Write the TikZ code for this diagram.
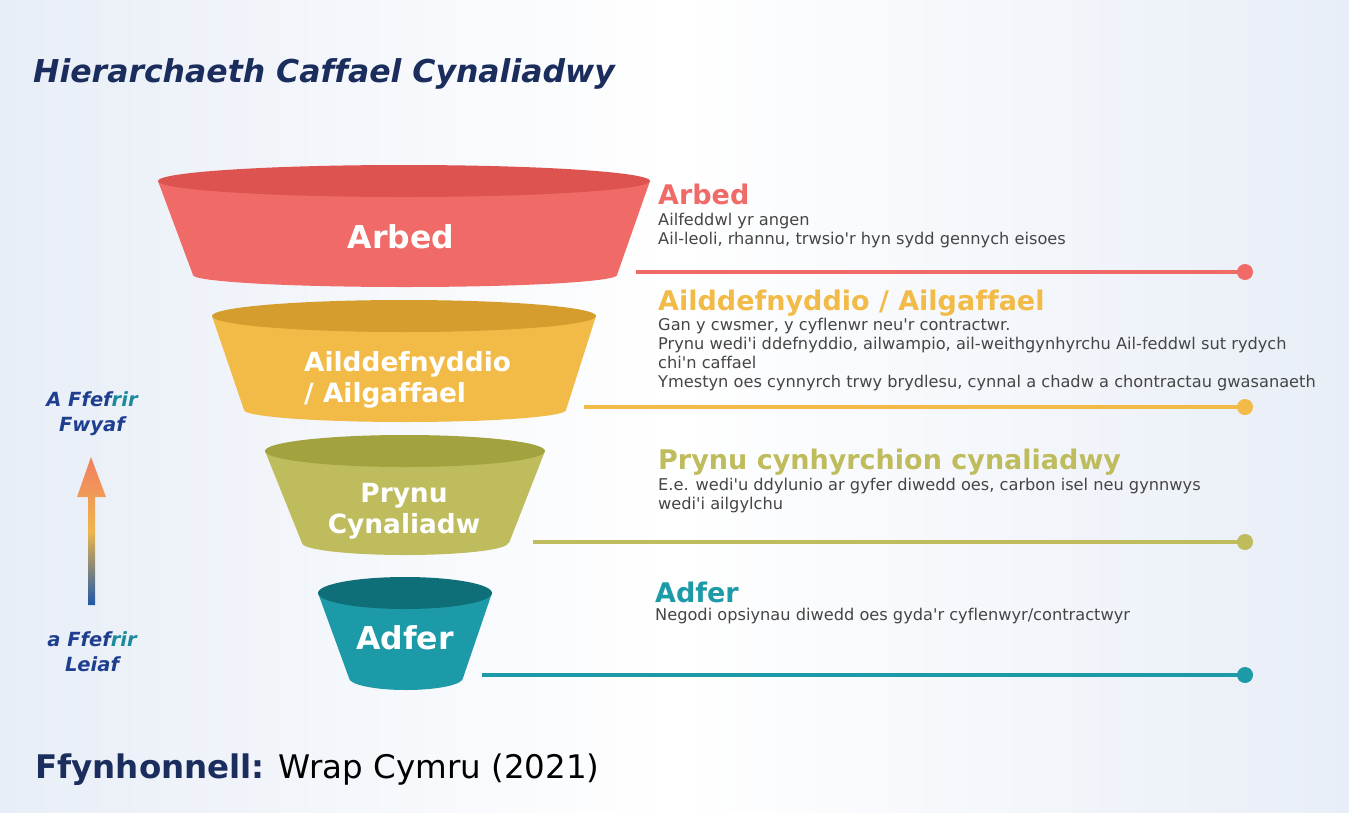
\documentclass[tikz,border=0pt]{standalone}
\usepackage{fontspec}
\setmainfont{DejaVu Sans}
\newfontfamily\verdanafont[Ligatures=NoCommon]{DejaVu Sans}
\usetikzlibrary{positioning}

\definecolor{arbedred}{HTML}{F06A68}
\definecolor{arbedtop}{HTML}{DD5350}
\definecolor{ailyellow}{HTML}{F2BB48}
\definecolor{ailtop}{HTML}{D49D2E}
\definecolor{prynuolive}{HTML}{BFBC5E}
\definecolor{prynutop}{HTML}{A2A23E}
\definecolor{adferteal}{HTML}{1C9AA7}
\definecolor{adfertop}{HTML}{0E6F78}
\definecolor{titlenavy}{HTML}{1B2D5C}
\definecolor{labelblue}{HTML}{1E3F8F}
\definecolor{labelteal}{HTML}{1A8A9C}
\definecolor{bodygrey}{HTML}{454545}
\definecolor{bgblue}{HTML}{E8EEF7}
\definecolor{arrowblue}{HTML}{1F58A8}
\definecolor{arrowgold}{HTML}{EDB64C}
\definecolor{arrowsalmon}{HTML}{F27E62}

\begin{document}
\begin{tikzpicture}[x=1pt,y=-1pt]
                \tikzset{headtext/.style={anchor=base west, inner sep=0pt,
                  font=\verdanafont\bfseries\fontsize{27}{27}\selectfont},
                 bodytext/.style={anchor=base west, inner sep=0pt, align=left,
                  text=bodygrey, font=\verdanafont\fontsize{16.2}{19}\selectfont},
                 funneltext/.style={inner sep=0pt, text=white, align=center,
                  font=\verdanafont\bfseries\fontsize{26.4}{31}\selectfont},
                 bigfunneltext/.style={funneltext, font=\verdanafont\bfseries\fontsize{31.5}{31.5}\selectfont},
                 sideline/.style={line width=4pt},
                 sidedot/.style={circle, inner sep=0pt, minimum size=16pt},
                 preflabel/.style={inner sep=0pt, align=center, text=labelblue,
                  font=\verdanafont\bfseries\itshape\fontsize{19.5}{25}\selectfont}}

                \useasboundingbox (0,0) rectangle (1349,812);
                \shade[left color=bgblue, right color=bgblue, middle color=white] (0,0) rectangle (1349,812);

                \node[anchor=base west, inner sep=0pt, text=titlenavy,
                  font=\verdanafont\bfseries\itshape\fontsize{31.5}{31.5}\selectfont] (title) at (33,82) {Hierarchaeth Caffael Cynaliadwy};

                % funnel
                \fill[arbedred] (158,181) -- (193,275) -- (617,275) -- (650,181) -- cycle;
                \fill[arbedred] (405,275) ellipse[x radius=212, y radius=12];
                \fill[arbedtop] (404,181) ellipse[x radius=246, y radius=16];
                \node[bigfunneltext] (arbedlabel) at (401,237) {Arbed};

                \fill[ailyellow] (212,316) -- (244,410) -- (566,410) -- (596,316) -- cycle;
                \fill[ailyellow] (405,410) ellipse[x radius=161, y radius=12];
                \fill[ailtop] (404,316) ellipse[x radius=192, y radius=16];
                \node[funneltext, align=left, anchor=west] (aillabel) at (304,380) {Ailddefnyddio\\/ Ailgaffael};

                \fill[prynuolive] (265,451) -- (302,543) -- (509,543) -- (545,451) -- cycle;
                \fill[prynuolive] (405,543) ellipse[x radius=103, y radius=12];
                \fill[prynutop] (405,451) ellipse[x radius=140, y radius=16];
                \node[funneltext] (prynulabel) at (404,511) {Prynu\\Cynaliadw};

                \fill[adferteal] (318,593) -- (349,678) -- (463,678) -- (492,593) -- cycle;
                \fill[adferteal] (406,678) ellipse[x radius=57, y radius=12];
                \fill[adfertop] (405,593) ellipse[x radius=87, y radius=16];
                \node[bigfunneltext] (adferlabel) at (405,638) {Adfer};

                % side lines
                \coordinate (arbedstart) at (636,272);
                \node[sidedot, fill=arbedred] (arbeddot) at (1245,272) {};
                \draw[sideline, arbedred] (arbedstart) -- (arbeddot.center);

                \coordinate (ailstart) at (584,407);
                \node[sidedot, fill=ailyellow] (aildot) at (1245,407) {};
                \draw[sideline, ailyellow] (ailstart) -- (aildot.center);

                \coordinate (prynustart) at (533,542);
                \node[sidedot, fill=prynuolive] (prynudot) at (1245,542) {};
                \draw[sideline, prynuolive] (prynustart) -- (prynudot.center);

                \coordinate (adferstart) at (482,675);
                \node[sidedot, fill=adferteal] (adferdot) at (1245,675) {};
                \draw[sideline, adferteal] (adferstart) -- (adferdot.center);

                % descriptions (body nodes sit on their last baseline)
                \node[headtext, text=arbedred] (arbedhead) at (658,204) {Arbed};
                \node[bodytext] (arbedbody) at (658,244) {Ailfeddwl yr angen\\Ail-leoli, rhannu, trwsio'r hyn sydd gennych eisoes};

                \node[headtext, text=ailyellow] (ailhead) at (658,310) {Ailddefnyddio / Ailgaffael};
                \node[bodytext] (ailbody) at (658,387) {Gan y cwsmer, y cyflenwr neu'r contractwr.\\Prynu wedi'i ddefnyddio, ailwampio, ail-weithgynhyrchu Ail-feddwl sut rydych\\chi'n caffael\\Ymestyn oes cynnyrch trwy brydlesu, cynnal a chadw a chontractau gwasanaeth};

                \node[headtext, text=prynuolive] (prynuhead) at (658,469) {Prynu cynhyrchion cynaliadwy};
                \node[bodytext] (prynubody) at (658,509) {E.e. wedi'u ddylunio ar gyfer diwedd oes, carbon isel neu gynnwys\\wedi'i ailgylchu};

                \node[headtext, text=adferteal] (adferhead) at (655,602) {Adfer};
                \node[bodytext] (adferbody) at (655,620) {Negodi opsiynau diwedd oes gyda'r cyflenwyr/contractwyr};

                % preference arrow
                \node[preflabel] (mostlabel) at (92,414) {A Ffef\textcolor{labelteal}{rir}\\Fwyaf};
                \node[preflabel] (leastlabel) at (92,652) {a Ffef\textcolor{labelteal}{rir}\\Leiaf};
                \shade[bottom color=arrowblue, top color=arrowsalmon, middle color=arrowgold]
                  (88,605) -- (88,497) -- (77,497) -- (91,457) -- (106,497) -- (95,497) -- (95,605) -- cycle;

                \node[anchor=base west, inner sep=0pt, font=\verdanafont\fontsize{32.5}{32.5}\selectfont] (source) at (35,778)
                  {\textcolor{titlenavy}{\bfseries Ffynhonnell:} Wrap Cymru (2021)};
\end{tikzpicture}
\end{document}
